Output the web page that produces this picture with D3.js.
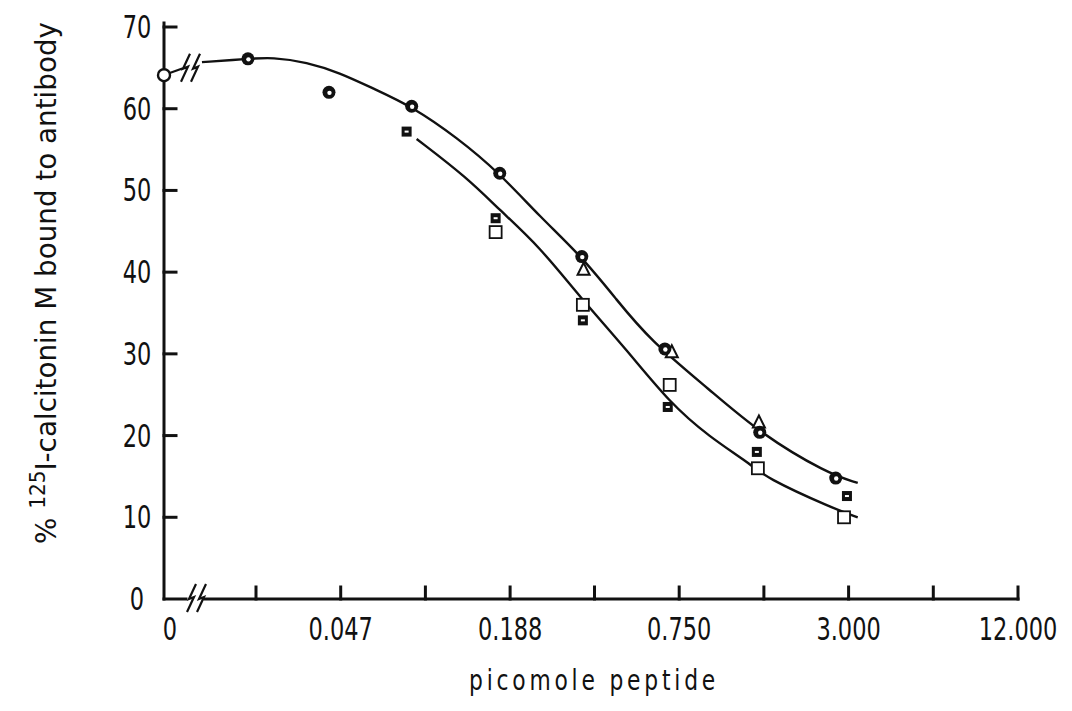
<!DOCTYPE html>
<html>
<head>
<meta charset="utf-8">
<script src="https://cdn.jsdelivr.net/npm/d3@7"></script>
<style>
  html, body { margin: 0; padding: 0; background: #fff; }
  svg { display: block; }
  text { font-family: "DejaVu Sans Condensed", "DejaVu Sans", sans-serif; font-stretch: condensed; fill: #111; }
</style>
</head>
<body>
<svg id="chart" width="1072" height="711"></svg>
<script>
// Displacement of 125I-calcitonin M from antibody by increasing peptide

// x axis: log2 spacing, one doubling per tick
const xTicks = [0.0235, 0.047, 0.094, 0.188, 0.375, 0.75, 1.5, 3, 6, 12];
const xTickLabels = [
  { v: 0.047, t: "0.047" },
  { v: 0.188, t: "0.188" },
  { v: 0.75,  t: "0.750" },
  { v: 3,     t: "3.000" },
  { v: 12,    t: "12.000" }
];
const yTicks = [0, 10, 20, 30, 40, 50, 60, 70];

// value with no peptide added
const zeroPoint = 64.1;

// measured points (picomole, % bound)
const circles = [
  [0.0220, 66.1], [0.0427, 62.0], [0.084, 60.3], [0.1727, 52.1],
  [0.338, 41.9], [0.667, 30.6], [1.45, 20.4], [2.70, 14.8]
];
const triangles = [
  [0.343, 40.3], [0.706, 30.2], [1.44, 21.6]
];
const filledSquares = [
  [0.0806, 57.2], [0.167, 46.6], [0.341, 34.1], [0.683, 23.5],
  [1.416, 18.0], [2.96, 12.6]
];
const openSquares = [
  [0.167, 44.9], [0.341, 36.0], [0.694, 26.2], [1.428, 16.0], [2.89, 10.0]
];

// hand-fitted curves through the two groups
const upperCurve = [
  [0.0151, 65.7], [0.0220, 66.1], [0.0269, 66.3], [0.0356, 65.7],
  [0.0466, 64.4], [0.0611, 62.5], [0.084, 60.3], [0.1215, 56.5],
  [0.1727, 52.1], [0.2395, 46.8], [0.338, 41.9], [0.450, 36.6],
  [0.589, 31.7], [0.963, 25.6], [1.45, 20.3], [2.508, 15.4], [3.233, 14.2]
];
const lowerCurve = [
  [0.0875, 56.3], [0.1318, 51.6], [0.1727, 47.6], [0.2395, 43.1],
  [0.332, 37.0], [0.488, 30.5], [0.694, 24.0], [0.963, 19.8],
  [1.336, 16.6], [1.51, 14.9], [2.635, 11.1], [3.233, 10.0]
];

const svg = d3.select("#chart");

const x = d3.scaleLog().base(2).domain([0.0235, 12]).range([256, 1018]);
const y = d3.scaleLinear().domain([0, 70]).range([599, 27]);
const axisX = 164;          // vertical axis position, also where "0" peptide sits
const breakX = 196;         // centre of the axis break

const ink = "#111";

// text drawn in a tall, narrow face: condensed font stretched vertically
function label(parent, px, py, str, opts = {}) {
  const g = parent.append("g")
    .attr("transform", `translate(${px},${py}) ${opts.rotate ? "rotate(-90)" : ""}`);
  const t = g.append("text")
    .attr("text-anchor", opts.anchor || "middle")
    .attr("font-size", opts.size || 25)
    .attr("transform", `scale(${opts.sx || 1},${opts.sy || 1.3})`);
  if (opts.spacing) t.attr("letter-spacing", opts.spacing);
  if (typeof str === "string") t.text(str); else str(t);
  if (opts.length) {
    const w = t.node().getComputedTextLength();
    t.attr("transform", `scale(${opts.length / w},${opts.sy || 1.3})`);
  }
  return t;
}

// ---- axes ----
const axes = svg.append("g").attr("stroke", ink).attr("fill", "none")
  .attr("stroke-width", 3).attr("stroke-linecap", "square");

axes.append("line").attr("x1", axisX).attr("x2", axisX)
  .attr("y1", y(70) - 4).attr("y2", y(0));
axes.append("line").attr("x1", axisX).attr("x2", breakX - 10)
  .attr("y1", y(0)).attr("y2", y(0));
axes.append("line").attr("x1", breakX + 9).attr("x2", x(12))
  .attr("y1", y(0)).attr("y2", y(0));

// y ticks point inward
axes.selectAll(".yt").data(yTicks.filter(d => d > 0)).join("line")
  .attr("x1", axisX).attr("x2", axisX + 12)
  .attr("y1", d => y(d)).attr("y2", d => y(d));

// x ticks point upward
axes.selectAll(".xt").data(xTicks).join("line")
  .attr("x1", d => x(d)).attr("x2", d => x(d))
  .attr("y1", y(0)).attr("y2", y(0) - 12);

// axis break marks: a pair of lightning-bolt strokes
function zig(g, cx, cy) {
  [-5, 5].forEach(dx => {
    const c = cx + dx;
    g.append("path")
      .attr("d", `M${c + 5},${cy - 14} L${c - 2},${cy + 1} L${c + 3},${cy - 1} L${c - 4},${cy + 14}`)
      .attr("fill", "none").attr("stroke", ink).attr("stroke-width", 2.2)
      .attr("stroke-linejoin", "miter");
  });
}
zig(svg, breakX, y(0) - 1);

// ---- tick labels ----
yTicks.forEach(d => label(svg, 137, y(d) + 11, String(d), { size: 25, sy: 1.3 }));

label(svg, 170, 640, "0", { size: 25, sy: 1.3 });
xTickLabels.forEach(d => label(svg, x(d.v), 640, d.t, { size: 25, sy: 1.3 }));

// ---- axis titles ----
label(svg, 594, 690, "picomole peptide", { size: 23, sy: 1.2, spacing: 3.6, length: 250 });

label(svg, 56, 283, t => {
  t.append("tspan").text("% ");
  t.append("tspan").attr("font-size", 18).attr("dy", -10).text("125");
  t.append("tspan").attr("dy", 10).text("I-calcitonin M bound to antibody");
}, { rotate: true, size: 25, sy: 1.15, length: 522 });

// ---- curves ----
const line = d3.line().x(d => x(d[0])).y(d => y(d[1])).curve(d3.curveBasis);
svg.append("path").datum(upperCurve).attr("d", line)
  .attr("fill", "none").attr("stroke", ink).attr("stroke-width", 2.4);
svg.append("path").datum(lowerCurve).attr("d", line)
  .attr("fill", "none").attr("stroke", ink).attr("stroke-width", 2.4);

// connector from the zero point toward the curve, with a break
const c0 = [axisX, y(zeroPoint)];
svg.append("line").attr("x1", c0[0] + 5).attr("y1", c0[1] - 2)
  .attr("x2", c0[0] + 19).attr("y2", c0[1] - 7)
  .attr("stroke", ink).attr("stroke-width", 2.2);
zig(svg, 190, (c0[1] + y(upperCurve[0][1])) / 2 - 1);

// ---- markers ----
const mk = svg.append("g");

// zero point: open circle on the axis
mk.append("circle").attr("cx", axisX).attr("cy", y(zeroPoint)).attr("r", 6)
  .attr("fill", "#fff").attr("stroke", ink).attr("stroke-width", 2.4);

mk.selectAll(".tri").data(triangles).join("path")
  .attr("transform", d => `translate(${x(d[0])},${y(d[1])})`)
  .attr("d", "M0,-7 L6,5 L-6,5 Z")
  .attr("fill", "#fff").attr("stroke", ink).attr("stroke-width", 2);

// dotted circles: heavy dark disc with a small light centre
mk.selectAll(".circ").data(circles).join("circle")
  .attr("cx", d => x(d[0])).attr("cy", d => y(d[1])).attr("r", 6.5)
  .attr("fill", ink);
mk.selectAll(".circdot").data(circles).join("circle")
  .attr("cx", d => x(d[0]) + 0.5).attr("cy", d => y(d[1]) + 0.5).attr("r", 2.2)
  .attr("fill", "#fff");

mk.selectAll(".osq").data(openSquares).join("rect")
  .attr("x", d => x(d[0]) - 6).attr("y", d => y(d[1]) - 6)
  .attr("width", 12).attr("height", 12)
  .attr("fill", "#fff").attr("stroke", ink).attr("stroke-width", 1.8);

mk.selectAll(".fsq").data(filledSquares).join("rect")
  .attr("x", d => x(d[0]) - 5).attr("y", d => y(d[1]) - 5)
  .attr("width", 10).attr("height", 10).attr("fill", ink);
mk.selectAll(".fsqm").data(filledSquares).join("rect")
  .attr("x", d => x(d[0]) - 2).attr("y", d => y(d[1]) - 1)
  .attr("width", 4).attr("height", 2).attr("fill", "#fff");
</script>
</body>
</html>
